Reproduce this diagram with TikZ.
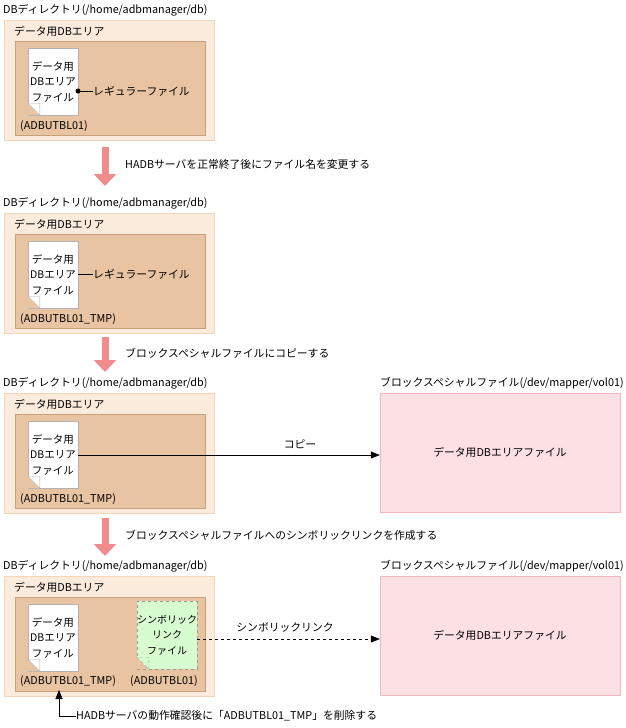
\documentclass[tikz,border=0pt]{standalone}
\usepackage{fontspec}
\setmainfont{Noto Sans CJK JP}
\usetikzlibrary{arrows.meta}
\definecolor{outerc}{HTML}{FBEBDD}
\definecolor{outerd}{HTML}{F3D5BA}
\definecolor{innerc}{HTML}{E8C4A2}
\definecolor{innerd}{HTML}{C9A07C}
\definecolor{pinkc}{HTML}{FDE0E3}
\definecolor{pinkd}{HTML}{F4B6BD}
\definecolor{arrc}{HTML}{F28C8C}
\definecolor{greenc}{HTML}{D6FCCF}
\tikzset{
 lbl/.style={anchor=west,inner sep=0pt,font=\fontsize{10.8}{12}\selectfont},
 ctr/.style={inner sep=0pt,font=\fontsize{10.8}{12}\selectfont,align=center},
 outerbox/.style={draw=outerd,fill=outerc},
 innerbox/.style={draw=innerd,fill=innerc},
 pinkbox/.style={draw=pinkd,fill=pinkc},
 docbox/.style={draw=gray!60,fill=white,minimum width=50pt,minimum height=67pt,inner sep=0pt,align=center,font=\fontsize{10.5}{15.5}\selectfont},
 symbox/.style={draw=gray!80,dashed,fill=greenc,minimum width=52pt,minimum height=68pt,inner sep=0pt,align=center,font=\fontsize{10}{15.5}\selectfont},
 bigarrow/.style={draw=arrc,line width=7pt,-{Triangle[length=12pt,width=22pt]}},
}
\newcommand{\fold}[1]{\fill[innerc] (#1.south west) -- ++(12,0) -- ++(-12,-12) -- cycle;
 \draw[gray!60,fill=white] (#1.south west)++(12,0) -- ++(0,-12) -- ++(-12,0) -- cycle;}
\begin{document}
\begin{tikzpicture}[x=1pt,y=-1pt]
\useasboundingbox (0,0) rectangle (625,728);
% ---- section 1
\node[lbl] (t1) at (3,10) {DBディレクトリ(/home/adbmanager/db)};
\draw[outerbox] (4,20) rectangle (214,140);
\node[lbl] (a1) at (14,31) {データ用DBエリア};
\draw[innerbox] (15,41) rectangle (205,135);
\node[docbox] (d1) at (53,81.5) {データ用\\DBエリア\\ファイル};
\fold{d1}
\node[lbl] (r1) at (93,91) {レギュラーファイル};
\fill (78,91) circle (2.5);
\draw (78,91) -- (r1.west);
\node[lbl] (n1) at (20,126) {(ADBUTBL01)};
% arrow 1
\coordinate (s1) at (105,147); \coordinate (e1) at (105,186);
\draw[bigarrow] (s1) -- (e1);
\node[lbl] (l1) at (125,164) {HADBサーバを正常終了後にファイル名を変更する};
% ---- section 2
\node[lbl] (t2) at (3,203) {DBディレクトリ(/home/adbmanager/db)};
\draw[outerbox] (4,213) rectangle (214,333);
\node[lbl] (a2) at (14,224) {データ用DBエリア};
\draw[innerbox] (15,234) rectangle (205,328);
\node[docbox] (d2) at (53,274.5) {データ用\\DBエリア\\ファイル};
\fold{d2}
\node[lbl] (r2) at (93,274) {レギュラーファイル};
\draw (d2.east |- r2) -- (r2.west);
\node[lbl] (n2) at (20,319) {(ADBUTBL01\_TMP)};
\coordinate (s2) at (105,337); \coordinate (e2) at (105,372);
\draw[bigarrow] (s2) -- (e2);
\node[lbl] (l2) at (125,353) {ブロックスペシャルファイルにコピーする};
% ---- section 3
\node[lbl] (t3) at (3,383) {DBディレクトリ(/home/adbmanager/db)};
\draw[outerbox] (4,393) rectangle (214,513);
\node[lbl] (a3) at (14,404) {データ用DBエリア};
\draw[innerbox] (15,414) rectangle (205,508);
\node[docbox] (d3) at (53,454.5) {データ用\\DBエリア\\ファイル};
\fold{d3}
\node[lbl] (n3) at (20,499) {(ADBUTBL01\_TMP)};
\node[lbl] (pt3) at (380,383) {ブロックスペシャルファイル(/dev/mapper/vol01)};
\node[pinkbox,minimum width=240pt,minimum height=119pt,inner sep=0pt] (p3) at (500,452.5) {};
\node[ctr] (pl3) at (p3) {データ用DBエリアファイル};
\draw[-{Triangle[length=9pt,width=7pt]}] (d3.east |- 0,455) -- (p3.west |- 0,455);
\node[ctr] (c3) at (300,444) {コピー};
\coordinate (s3) at (105,518); \coordinate (e3) at (105,556);
\draw[bigarrow] (s3) -- (e3);
\node[lbl] (l3) at (125,535) {ブロックスペシャルファイルへのシンボリックリンクを作成する};
% ---- section 4
\node[lbl] (t4) at (3,566) {DBディレクトリ(/home/adbmanager/db)};
\draw[outerbox] (4,576) rectangle (214,696);
\node[lbl] (a4) at (14,587) {データ用DBエリア};
\draw[innerbox] (15,597) rectangle (205,691);
\node[docbox] (d4) at (53,637.5) {データ用\\DBエリア\\ファイル};
\fold{d4}
\node[symbox] (sy) at (167,635) {シンボリック\\リンク\\ファイル};
\fill[innerc] (sy.south west) -- ++(12,0) -- ++(-12,-12) -- cycle;
\draw[gray!80,dashed,fill=greenc] (sy.south west)++(12,0) -- ++(0,-12) -- ++(-12,0) -- cycle;
\node[lbl] (n4) at (20,681) {(ADBUTBL01\_TMP)};
\node[lbl] (m4) at (130,681) {(ADBUTBL01)};
\node[lbl] (pt4) at (380,566) {ブロックスペシャルファイル(/dev/mapper/vol01)};
\node[pinkbox,minimum width=240pt,minimum height=119pt,inner sep=0pt] (p4) at (500,635.5) {};
\node[ctr] (pl4) at (p4) {データ用DBエリアファイル};
\draw[dashed,-{Triangle[length=9pt,width=7pt]}] (sy.east |- 0,639) -- (p4.west |- 0,639);
\node[ctr] (c4) at (285,627) {シンボリックリンク};
\node[lbl] (l4) at (76,716) {HADBサーバの動作確認後に「ADBUTBL01\_TMP」を削除する};
\coordinate (k4) at (59,690);
\draw[-{Triangle[length=9pt,width=7pt]}] (l4.west) -- (k4 |- l4.west) -- (k4);
\end{tikzpicture}
\end{document}
